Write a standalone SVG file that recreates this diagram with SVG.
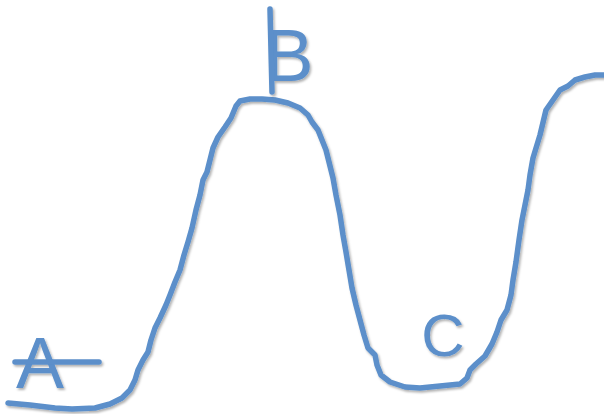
<svg xmlns="http://www.w3.org/2000/svg" width="604" height="414" viewBox="0 0 604 414">
<defs>
<filter id="sh" x="-10%" y="-10%" width="120%" height="120%">
<feDropShadow dx="1.5" dy="2" stdDeviation="1.2" flood-color="#000" flood-opacity="0.3"/>
</filter>
<style>
.ink{fill:none;stroke:#5b8fca;stroke-width:5.5;stroke-linecap:round;stroke-linejoin:round}
.lbl{font-family:"Liberation Sans",Arial,sans-serif;fill:#5b8fca;text-anchor:middle}
</style>
</defs>
<rect width="604" height="414" fill="#fff"/>
<g id="connectors" filter="url(#sh)">
<path class="ink" d="M8,403 L30,405 L55,408 L72,409 L95,408 L110,404 L122,398 L130,390 L135,380 L138,370 L143,360 L148,352 L151,340 L155,328 L160,318 L166,305 L170,295 L175,282 L180,270 L184,255 L188,242 L192,228 L196,210 L200,195 L203,180 L207,172 L210,160 L213,148 L218,137 L225,127 L231,118 L236,106 L240,101 L250,99 L262,99 L275,100 L288,103 L300,108 L308,115 L312,122 L318,130 L322,140 L326,150 L329,162 L333,178 L336,195 L340,215 L343,235 L346,252 L349,270 L352,288 L356,305 L360,320 L364,335 L368,348 L375,355 L377,365 L381,375 L390,382 L405,387 L420,388 L440,386 L460,384 L467,378 L470,370 L476,364 L485,356 L492,344 L497,332 L501,320 L507,310 L511,295 L513,280 L516,262 L519,240 L522,220 L525,205 L528,190 L530,175 L533,158 L540,135 L546,110 L553,100 L560,90 L568,86 L575,80 L585,77 L595,75 L604,75"/>
</g>
<g id="A" filter="url(#sh)">
<text class="lbl" x="40" y="388" font-size="72">A</text>
<line class="ink" x1="15" y1="362" x2="99" y2="362"/>
</g>
<g id="B" filter="url(#sh)">
<text class="lbl" x="289" y="81" font-size="74">B</text>
<line class="ink" x1="270" y1="9" x2="272" y2="92"/>
</g>
<g id="C" filter="url(#sh)">
<text class="lbl" x="443" y="356" font-size="60">C</text>
</g>
</svg>
